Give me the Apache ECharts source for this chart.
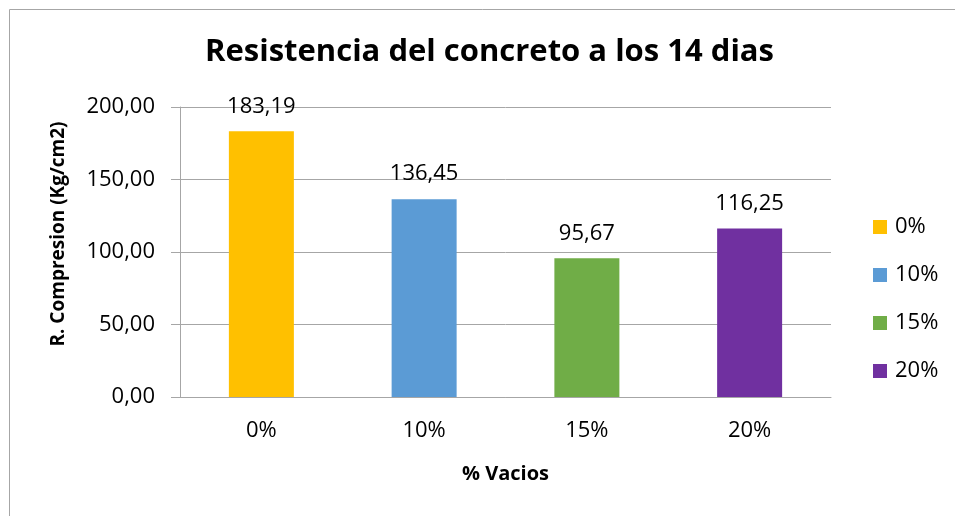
<!DOCTYPE html>
<html>
<head>
<meta charset="utf-8">
<script src="https://cdn.jsdelivr.net/npm/echarts@6/dist/echarts.min.js"></script>
<style>
  html, body { margin: 0; padding: 0; background: #fff; }
  #chart { width: 955px; height: 516px; }
</style>
</head>
<body>
<div id="chart"></div>
<script>
const categories = ['0%', '10%', '15%', '20%']
const values = [183.19, 136.45, 95.67, 116.25]
const colors = ['#FFC000', '#5B9BD5', '#70AD47', '#7030A0']
const yTicks = { min: 0, max: 200, interval: 50 }

const font = '"Open Sans", sans-serif'
const fmt = v => Number(v).toFixed(2).replace('.', ',')

// one series per category so each bar gets its own legend entry
const series = categories.map((name, i) => ({
  name: name,
  type: 'bar',
  stack: 'total',
  barWidth: 65,
  itemStyle: { color: colors[i] },
  label: {
    show: true,
    position: 'top',
    distance: 14,
    fontFamily: font,
    fontSize: 22,
    color: '#000',
    formatter: p => fmt(p.value)
  },
  data: categories.map((c, j) => (j === i ? values[i] : '-'))
}))

const myChart = echarts.init(document.getElementById('chart'))
myChart.setOption({
  animation: false,
  graphic: [{
    type: 'rect',
    left: 7,
    top: 7,
    shape: { width: 1000, height: 600 },
    style: { fill: 'none', stroke: '#a6a6a6', lineWidth: 1 }
  }],
  title: {
    text: 'Resistencia del concreto a los 14 dias',
    left: 200,
    top: 32,
    textStyle: { fontFamily: font, fontSize: 31, fontWeight: 'bold', color: '#000' }
  },
  legend: {
    orient: 'vertical',
    left: 873,
    top: 216,
    padding: 0,
    itemWidth: 14,
    itemHeight: 14,
    itemGap: 26,
    icon: 'rect',
    textStyle: { fontFamily: font, fontSize: 22, color: '#000', padding: [0, 0, 0, 3] },
    data: categories
  },
  grid: { left: 180, right: 124, top: 107, bottom: 119 },
  xAxis: {
    type: 'category',
    data: categories,
    name: '% Vacios',
    nameLocation: 'middle',
    nameGap: 67,
    nameTextStyle: { fontFamily: font, fontSize: 20, fontWeight: 'bold', color: '#000' },
    axisLine: { lineStyle: { color: '#a6a6a6' } },
    axisTick: { show: false },
    axisLabel: { fontFamily: font, fontSize: 22, color: '#000', margin: 23 }
  },
  yAxis: {
    type: 'value',
    min: yTicks.min,
    max: yTicks.max,
    interval: yTicks.interval,
    name: 'R. Compresion (Kg/cm2)',
    nameLocation: 'middle',
    nameGap: 112,
    nameRotate: 90,
    nameTextStyle: { fontFamily: font, fontSize: 19, fontWeight: 'bold', color: '#000', padding: [0, 0, 0, 36] },
    axisLine: { show: true, lineStyle: { color: '#a6a6a6' } },
    axisTick: { show: true, length: 9, lineStyle: { color: '#a6a6a6' } },
    splitLine: { lineStyle: { color: '#a6a6a6' } },
    axisLabel: { fontFamily: font, fontSize: 22, color: '#000', margin: 25, formatter: v => fmt(v) }
  },
  series: series
})
window.addEventListener('resize', () => { myChart.resize() })
</script>
</body>
</html>
